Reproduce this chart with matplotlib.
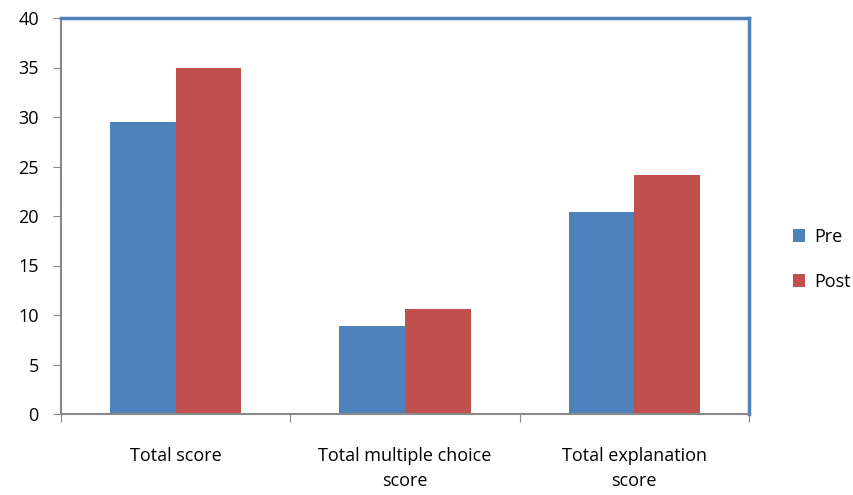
import matplotlib.pyplot as plt
import numpy as np

categories = ['Total score', 'Total multiple choice\nscore', 'Total explanation\nscore']
pre = [29.5, 8.9, 20.4]
post = [34.9, 10.6, 24.1]
series_names = ['Pre', 'Post']
yticks = [0, 5, 10, 15, 20, 25, 30, 35, 40]

blue = '#4f81bd'
red = '#c0504d'

plt.rcParams['font.family'] = ['Open Sans', 'DejaVu Sans']

fig = plt.figure(figsize=(8.54, 4.95), dpi=100)
ax = fig.add_axes([61 / 854, 1 - 414 / 495, 688 / 854, 396 / 495])

x = np.arange(len(categories))
w = 0.286
ax.bar(x - w / 2, pre, w, color=blue, label=series_names[0], zorder=2)
ax.bar(x + w / 2, post, w, color=red, label=series_names[1], zorder=2)

ax.set_xlim(-0.5, len(categories) - 0.5)
ax.set_ylim(0, 40)
ax.set_yticks(yticks)
ax.set_yticklabels([str(t) for t in yticks], fontsize=13)

ax.set_xticks(np.arange(len(categories) + 1) - 0.5)
ax.set_xticklabels([])
ax.set_xticks(x, minor=True)
ax.set_xticklabels(categories, minor=True, fontsize=13, linespacing=1.5)
ax.tick_params(axis='x', which='minor', length=0, pad=24)
ax.tick_params(axis='x', which='major', length=6, color='#888888', direction='out')
ax.tick_params(axis='y', length=6, color='#888888', direction='out', pad=10)

for side in ['top', 'right']:
    ax.spines[side].set_color(blue)
    ax.spines[side].set_linewidth(2.5)
for side in ['left', 'bottom']:
    ax.spines[side].set_color('#888888')
    ax.spines[side].set_linewidth(1.5)

ax.legend(loc='center left', bbox_to_anchor=(1.04, 0.39), frameon=False,
          fontsize=13, handlelength=0.7, handleheight=0.7, labelspacing=1.5,
          handletextpad=0.5)

fig.savefig('out.png', dpi=100)
